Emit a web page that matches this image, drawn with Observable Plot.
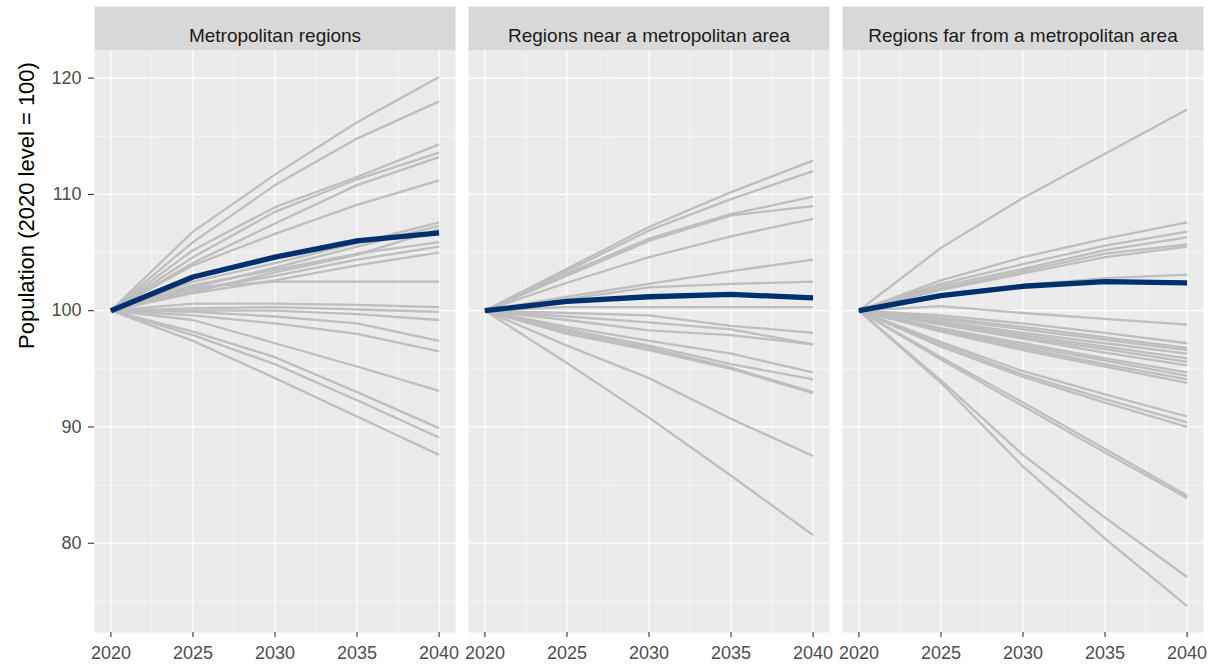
<!DOCTYPE html>
<html>
<head>
<meta charset="utf-8">
<script src="https://cdn.jsdelivr.net/npm/d3@7"></script>
<script src="https://cdn.jsdelivr.net/npm/@observablehq/plot@0.6"></script>
<style>
  html, body { margin: 0; padding: 0; background: #ffffff; }
  #chart svg { display: block; }
</style>
</head>
<body>
<div id="chart"></div>
<script>
const years = [2020, 2025, 2030, 2035, 2040];
const regions = ["Metropolitan regions", "Regions near a metropolitan area", "Regions far from a metropolitan area"];
const yTitle = "Population (2020 level = 100)";
const xTicks = [2020, 2025, 2030, 2035, 2040];
const xMinorTicks = [2022.5, 2027.5, 2032.5, 2037.5];
const yTicks = [80, 90, 100, 110, 120];
const yMinorTicks = [75, 85, 95, 105, 115];

// Individual regions, one array per region (values at 2020, 2025, 2030, 2035, 2040)
const metroLines = [
  [100, 106.8, 111.7, 116.2, 120.1],
  [100, 105.9, 110.8, 114.8, 118.0],
  [100, 105.2, 108.9, 111.5, 114.3],
  [100, 104.6, 108.5, 111.3, 113.6],
  [100, 104.1, 107.5, 110.8, 113.2],
  [100, 103.9, 106.6, 109.1, 111.2],
  [100, 102.5, 104.1, 105.8, 107.6],
  [100, 102.0, 103.7, 105.5, 107.3],
  [100, 101.6, 103.3, 104.8, 107.0],
  [100, 102.2, 103.5, 104.9, 105.9],
  [100, 101.8, 103.0, 104.4, 105.5],
  [100, 101.5, 102.6, 103.9, 105.0],
  [100, 102.0, 102.5, 102.5, 102.5],
  [100, 100.6, 100.6, 100.5, 100.3],
  [100, 100.2, 100.3, 100.1, 99.9],
  [100, 100.0, 100.0, 99.7, 99.2],
  [100, 99.9, 99.5, 98.9, 97.4],
  [100, 99.6, 98.9, 98.0, 96.5],
  [100, 99.2, 97.2, 95.2, 93.1],
  [100, 98.2, 96.0, 93.0, 89.9],
  [100, 97.9, 95.4, 92.3, 89.1],
  [100, 97.4, 94.2, 90.9, 87.6]
];
const nearLines = [
  [100, 103.6, 107.2, 110.2, 112.9],
  [100, 103.4, 106.9, 109.6, 112.0],
  [100, 103.2, 106.2, 108.3, 109.8],
  [100, 103.0, 106.0, 108.2, 109.0],
  [100, 102.4, 104.6, 106.4, 107.9],
  [100, 101.2, 102.3, 103.4, 104.4],
  [100, 101.0, 102.0, 102.3, 102.5],
  [100, 100.3, 100.3, 100.3, 100.3],
  [100, 99.8, 99.6, 98.7, 98.1],
  [100, 99.5, 99.0, 98.4, 97.1],
  [100, 99.2, 98.3, 97.9, 97.1],
  [100, 98.6, 97.4, 96.3, 94.7],
  [100, 98.4, 97.0, 95.4, 94.1],
  [100, 98.2, 96.8, 95.1, 93.0],
  [100, 98.0, 96.6, 95.0, 92.9],
  [100, 97.0, 94.2, 90.7, 87.5],
  [100, 95.5, 90.8, 85.8, 80.7]
];
const farLines = [
  [100, 105.4, 109.7, 113.5, 117.3],
  [100, 102.6, 104.6, 106.2, 107.6],
  [100, 102.3, 104.0, 105.6, 106.8],
  [100, 102.1, 103.6, 105.2, 106.3],
  [100, 101.9, 103.4, 104.9, 105.7],
  [100, 101.8, 103.2, 104.6, 105.5],
  [100, 101.4, 102.2, 102.8, 103.1],
  [100, 100.4, 99.8, 99.3, 98.8],
  [100, 99.6, 98.9, 98.1, 97.2],
  [100, 99.4, 98.6, 97.7, 96.8],
  [100, 99.3, 98.4, 97.5, 96.6],
  [100, 99.1, 98.1, 97.2, 96.3],
  [100, 99.0, 97.9, 96.9, 95.9],
  [100, 98.9, 97.7, 96.7, 95.6],
  [100, 98.8, 97.6, 96.4, 95.3],
  [100, 98.5, 97.2, 95.9, 94.7],
  [100, 98.4, 97.0, 95.7, 94.4],
  [100, 98.3, 96.8, 95.4, 94.1],
  [100, 98.2, 96.6, 95.2, 93.8],
  [100, 97.3, 94.8, 92.8, 90.9],
  [100, 97.1, 94.5, 92.4, 90.4],
  [100, 96.9, 94.3, 92.1, 90.0],
  [100, 96.0, 92.1, 88.1, 84.1],
  [100, 95.8, 91.8, 87.8, 83.9],
  [100, 94.0, 87.6, 82.2, 77.1],
  [100, 93.8, 86.6, 80.4, 74.6]
];
// Group averages (highlighted line)
const metroMean = [100, 102.9, 104.6, 106.0, 106.7];
const nearMean = [100, 100.8, 101.2, 101.4, 101.1];
const farMean = [100, 101.3, 102.1, 102.5, 102.4];

// Build long tables from the arrays
const groups = [metroLines, nearLines, farLines];
const means = [metroMean, nearMean, farMean];
const rows = [];
groups.forEach((lines, g) => {
  lines.forEach((vals, i) => {
    vals.forEach((v, k) => rows.push({region: regions[g], id: regions[g] + "-" + i, year: years[k], value: v}));
  });
});
const meanRows = [];
means.forEach((vals, g) => {
  vals.forEach((v, k) => meanRows.push({region: regions[g], id: regions[g] + "-mean", year: years[k], value: v}));
});

// ggplot-like expansion of 5%
const allVals = rows.map(d => d.value).concat(meanRows.map(d => d.value));
const yMin = d3.min(allVals), yMax = d3.max(allVals);
const yPad = (yMax - yMin) * 0.05;
const xPad = (d3.max(years) - d3.min(years)) * 0.05;

const W = 1212, H = 666;
const mTop = 50, mBottom = 34, mLeft = 93, mRight = 9;
const frameH = H - mTop - mBottom;
const stripH = 44;

const chart = Plot.plot({
  width: W,
  height: H,
  marginTop: mTop,
  marginBottom: mBottom,
  marginLeft: mLeft,
  marginRight: mRight,
  style: {fontFamily: "'Liberation Sans', Arial, sans-serif", background: "#ffffff"},
  fx: {domain: regions, axis: null, paddingInner: 0.036, paddingOuter: 0, label: null},
  x: {domain: [d3.min(years) - xPad, d3.max(years) + xPad], label: null},
  y: {domain: [yMin - yPad, yMax + yPad], label: null},
  marks: [
    // panel background
    Plot.frame({fill: "#EBEBEB", stroke: null}),
    // strip background
    Plot.frame({fill: "#D9D9D9", stroke: null, insetTop: -stripH, insetBottom: frameH}),
    // grid lines
    Plot.gridX({ticks: xMinorTicks, stroke: "#ffffff", strokeOpacity: 1, strokeWidth: 0.6}),
    Plot.gridY({ticks: yMinorTicks, stroke: "#ffffff", strokeOpacity: 1, strokeWidth: 0.6}),
    Plot.gridX({ticks: xTicks, stroke: "#ffffff", strokeOpacity: 1, strokeWidth: 1.2}),
    Plot.gridY({ticks: yTicks, stroke: "#ffffff", strokeOpacity: 1, strokeWidth: 1.2}),
    // strip labels
    Plot.text(regions, {fx: d => d, text: d => d, frameAnchor: "top", dy: -22, fontSize: 19, fill: "#1A1A1A"}),
    // axes
    Plot.axisX({ticks: xTicks, tickFormat: d => String(d), tickSize: 5, tickPadding: 9, fontSize: 18, stroke: "#333333", strokeWidth: 1.1, fill: "#4D4D4D", label: null}),
    Plot.axisY({ticks: yTicks, tickSize: 6, tickPadding: 7, fontSize: 18, stroke: "#333333", strokeWidth: 1.1, fill: "#4D4D4D", label: null}),
    // y title
    Plot.text([yTitle], {fx: () => regions[0], text: d => d, frameAnchor: "left", textAnchor: "middle", dx: -68, dy: -136, rotate: -90, fontSize: 22, fill: "#000000"}),
    // data lines
    Plot.line(rows, {x: "year", y: "value", z: "id", fx: "region", stroke: "#BEBEBE", strokeWidth: 2.3, strokeLinecap: "butt"}),
    Plot.line(meanRows, {x: "year", y: "value", z: "id", fx: "region", stroke: "#00306E", strokeWidth: 5.3, strokeLinecap: "butt"})
  ]
});
document.getElementById("chart").appendChild(chart);
</script>
</body>
</html>
